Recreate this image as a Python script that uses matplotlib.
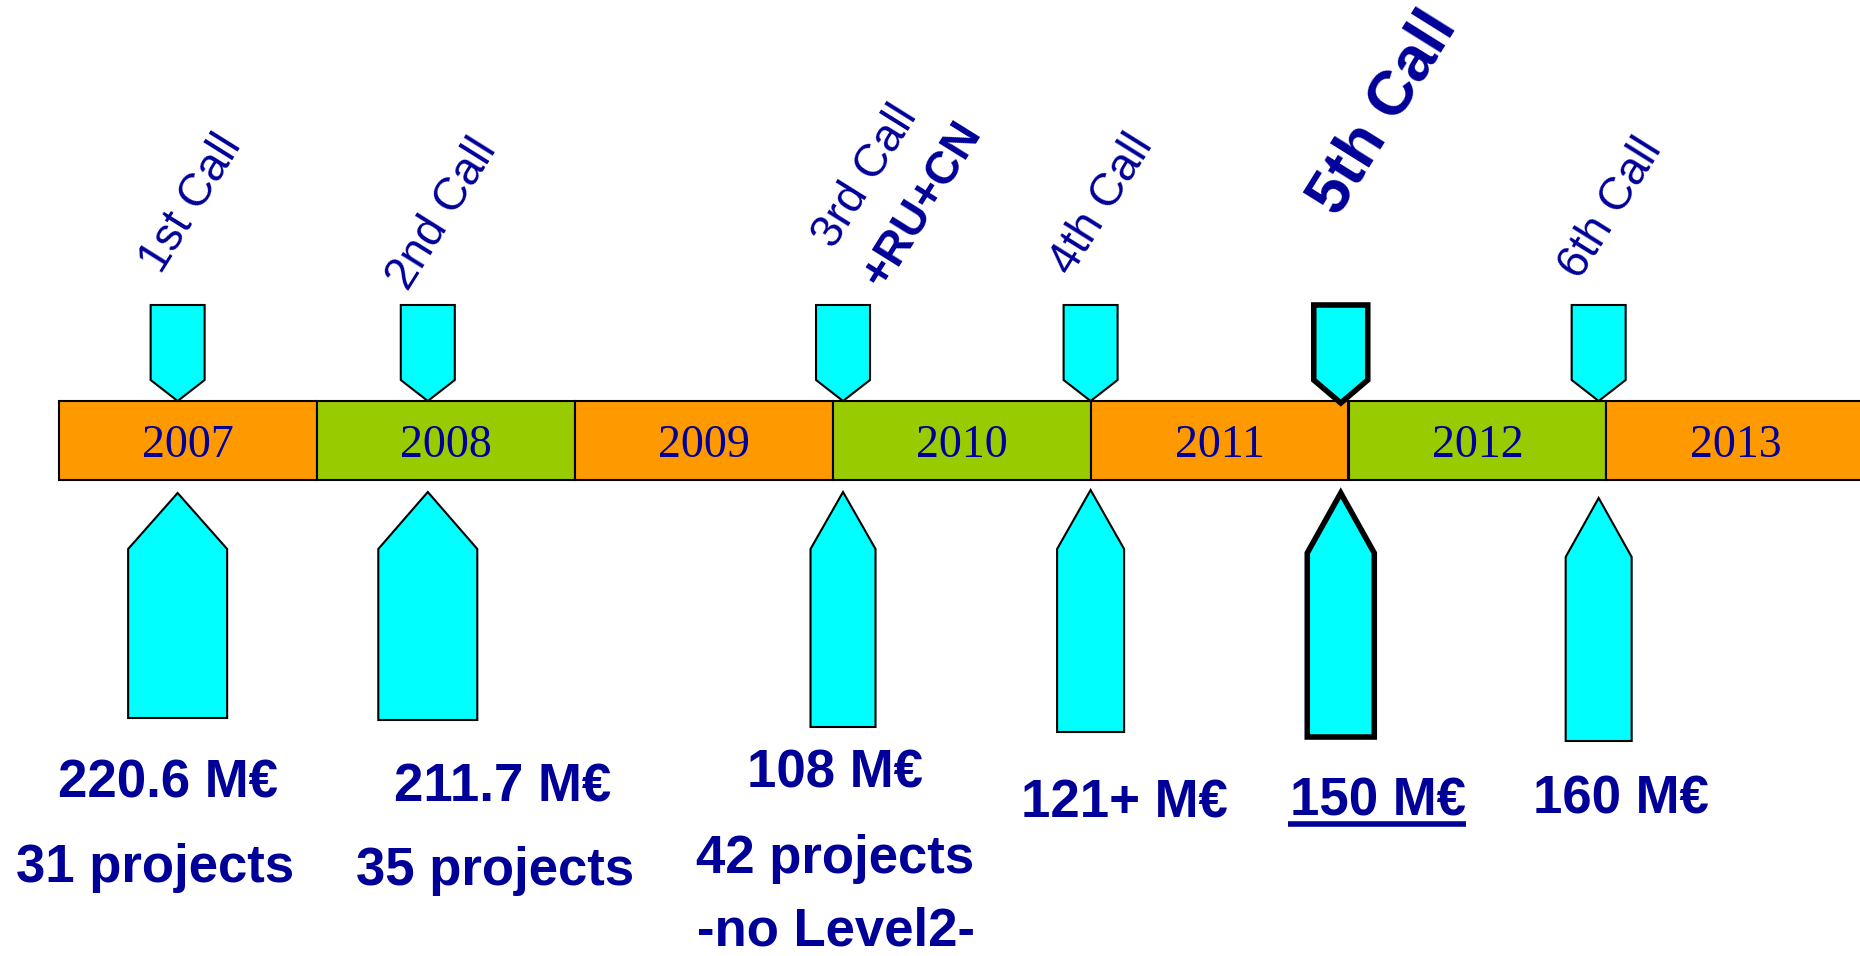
import matplotlib
matplotlib.use("Agg")
import matplotlib.pyplot as plt
from matplotlib.patches import Polygon

# ---- data ----
years = [2007, 2008, 2009, 2010, 2011, 2012, 2013]
year_colors = ["#FF9900", "#99CC00", "#FF9900", "#99CC00", "#FF9900", "#99CC00", "#FF9900"]
call_labels = ["1st Call", "2nd Call", "3rd Call", "4th Call", "5th Call", "6th Call"]
call_extra = ["", "", "+RU+CN", "", "", ""]
call_dates = [2007.46, 2008.43, 2010.04, 2011.0, 2011.97, 2012.97]
amounts = ["220.6 M€", "211.7 M€", "108 M€", "121+ M€", "150 M€", "160 M€"]
projects = ["31 projects", "35 projects", "42 projects", "", "", ""]
notes = ["", "", "-no Level2-", "", "", ""]

# ---- layout (pixel units, figure 1860x956) ----
W, H = 1860, 956
PX_PER_YEAR = 257.9
X0_PX = 59
def px2yr(px):
    return years[0] + (px - X0_PX) / PX_PER_YEAR

BLUE = "#000099"
CYAN = "#00FFFF"
SANS = "Liberation Sans"

fig = plt.figure(figsize=(18.6, 9.56), dpi=100)
ax = fig.add_axes([0, 0, 1, 1])
ax.set_xlim(px2yr(0), px2yr(W))
ax.set_ylim(H, 0)
ax.axis("off")

# timeline bar
bar_top, bar_h = 401, 79
ax.bar(years, bar_h, bottom=bar_top, width=1, align="edge",
       color=year_colors, edgecolor="black", linewidth=1.5, zorder=1)
for y in years:
    ax.text(y + 0.5, 457, str(y), ha="center", va="baseline",
            fontsize=33, family="Liberation Serif", color=BLUE, zorder=3)

# top arrows (pointing down)
top_w = 54 / PX_PER_YEAR
for i, c in enumerate(call_dates):
    t, s, tip = 305, 380, (403 if i == 4 else 401)
    pts = [(c - top_w / 2, t), (c + top_w / 2, t), (c + top_w / 2, s), (c, tip), (c - top_w / 2, s)]
    lw = 4.0 if i == 4 else 1.5
    ax.add_patch(Polygon(pts, closed=True, facecolor=CYAN, edgecolor="black",
                         linewidth=lw, joinstyle="miter", zorder=4))

# bottom arrows (pointing up)
bot_w = [99, 99, 65, 67, 67, 66]
bot_geom = [(493, 549, 718), (492, 549, 720), (492, 549, 727),
            (490, 549, 732), (493, 553, 737), (498, 557, 741)]
for i, c in enumerate(call_dates):
    w = bot_w[i] / PX_PER_YEAR
    tip, s, b = bot_geom[i]
    pts = [(c, tip), (c + w / 2, s), (c + w / 2, b), (c - w / 2, b), (c - w / 2, s)]
    lw = 4.0 if i == 4 else 1.5
    ax.add_patch(Polygon(pts, closed=True, facecolor=CYAN, edgecolor="black",
                         linewidth=lw, joinstyle="miter", zorder=4))

# rotated call labels
ROT = 58
lab_pos = [(191, 204), (442, 214), (866, 176), (1102, 205), (1383, 113), (1611, 209)]
extra_pos = [None, None, (922, 205), None, None, None]
for i, lab in enumerate(call_labels):
    x, y = lab_pos[i]
    bold = (i == 4)
    ax.text(px2yr(x), y, lab, rotation=ROT, ha="center", va="center",
            fontsize=45 if bold else 33, fontweight="bold" if bold else "normal",
            family=SANS, color=BLUE, zorder=5)
    if call_extra[i]:
        ex, ey = extra_pos[i]
        ax.text(px2yr(ex), ey, call_extra[i], rotation=ROT, ha="center", va="center",
                fontsize=33, fontweight="bold", family=SANS, color=BLUE, zorder=5)

# amounts, projects, notes (x centre, baseline y)
amt_pos = [(168, 798), (503, 802), (835, 788), (1124, 817), (1378, 816), (1621, 813)]
proj_pos = [(155, 882), (495, 885), (835, 873), None, None, None]
note_pos = [None, None, (836, 946), None, None, None]
for i in range(len(amounts)):
    x, y = amt_pos[i]
    ax.text(px2yr(x), y, amounts[i], ha="center", va="baseline", fontsize=38,
            fontweight="bold", family=SANS, color=BLUE, zorder=5)
    if projects[i]:
        px, py = proj_pos[i]
        ax.text(px2yr(px), py, projects[i], ha="center", va="baseline", fontsize=38,
                fontweight="bold", family=SANS, color=BLUE, zorder=5)
    if notes[i]:
        nx, ny = note_pos[i]
        ax.text(px2yr(nx), ny, notes[i], ha="center", va="baseline", fontsize=38,
                fontweight="bold", family=SANS, color=BLUE, zorder=5)

# underline for the 5th call amount
ax.plot([px2yr(1288), px2yr(1466)], [824, 824], color=BLUE, linewidth=4.0,
        solid_capstyle="butt", zorder=5)

fig.savefig("out.png", dpi=100)
